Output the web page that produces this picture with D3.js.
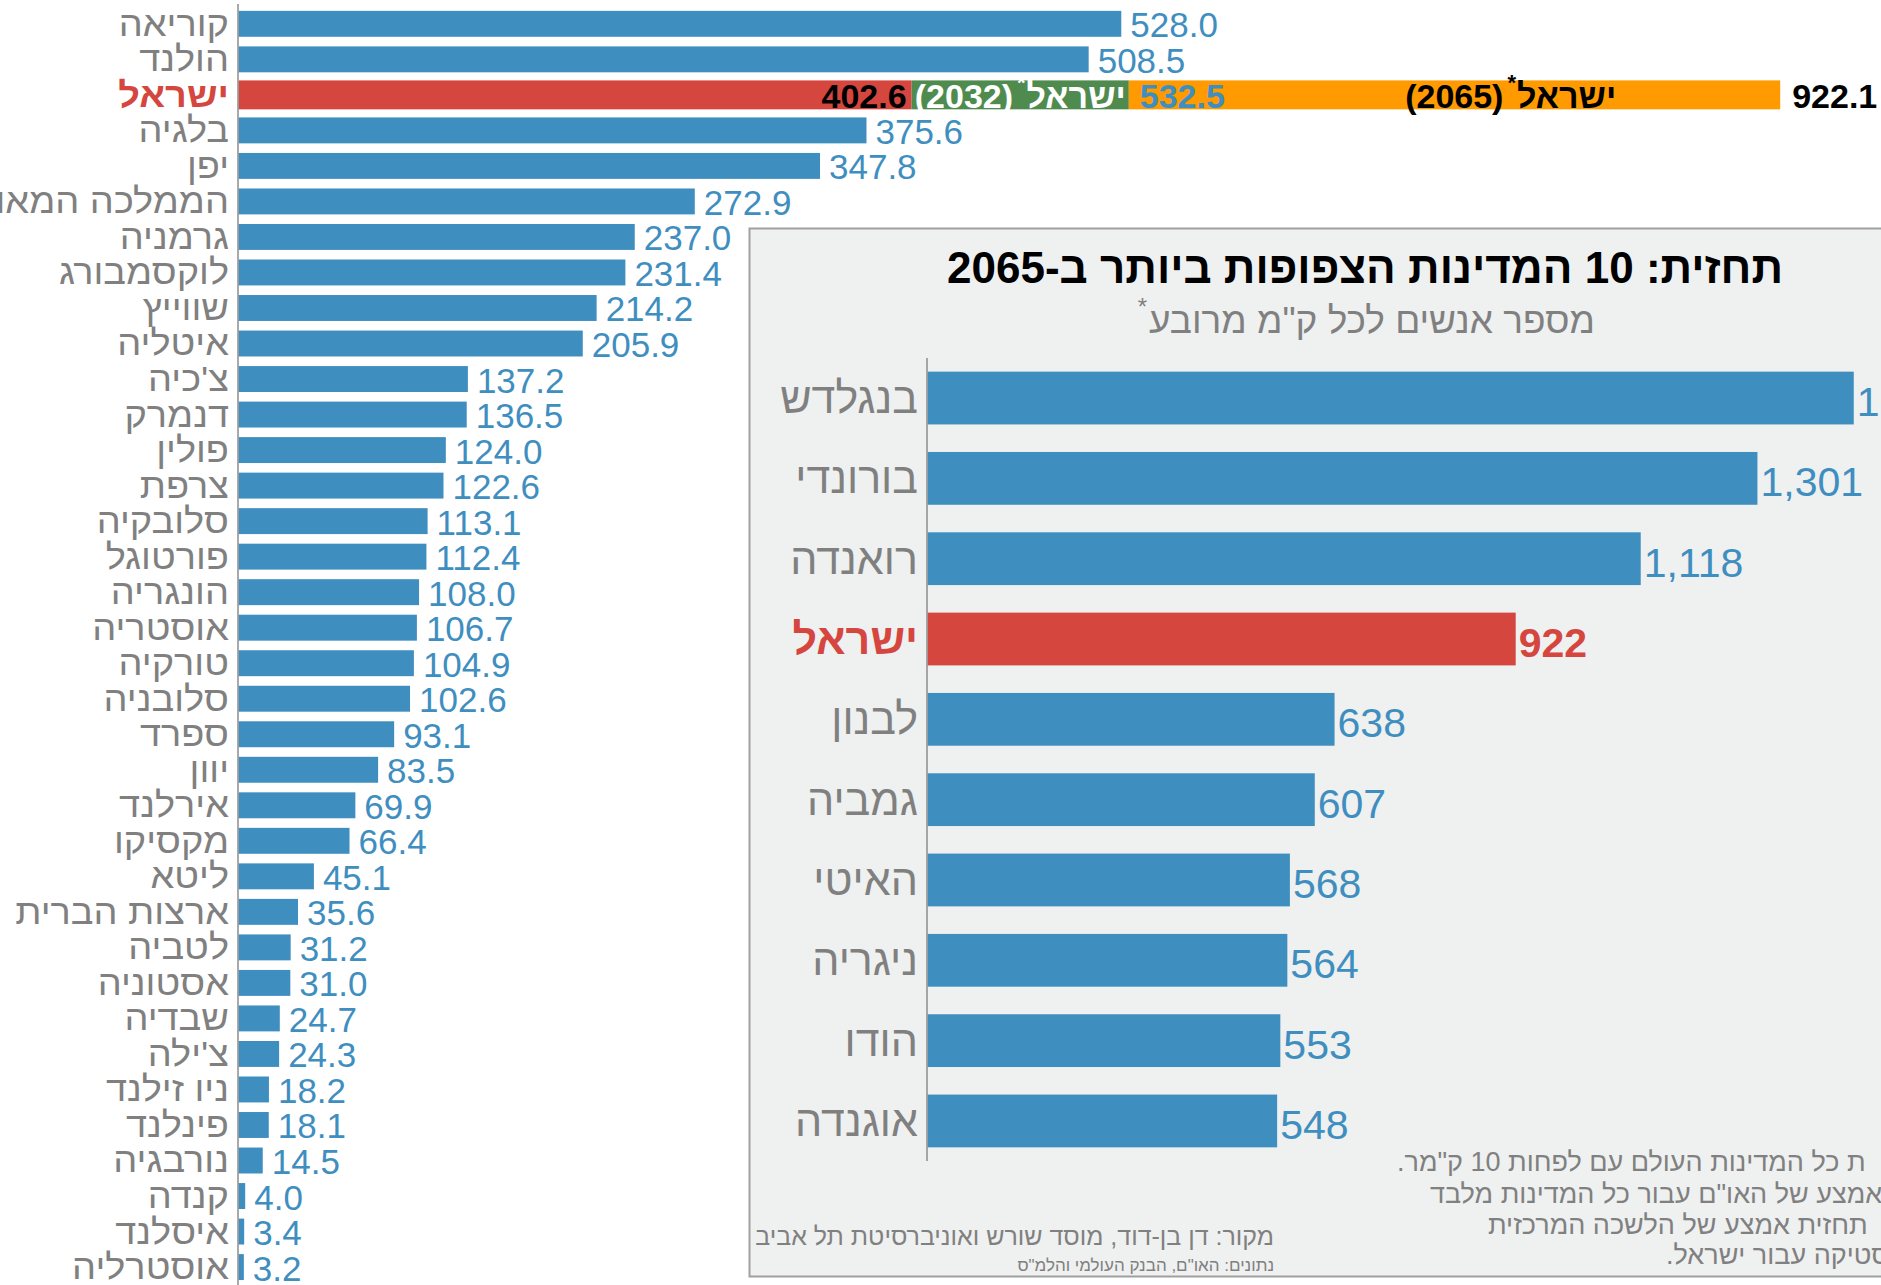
<!DOCTYPE html>
<html lang="he">
<head>
<meta charset="utf-8">
<script src="https://cdn.jsdelivr.net/npm/d3@7/dist/d3.min.js"></script>
<style>
  html, body { margin: 0; padding: 0; background: #ffffff; overflow: hidden; }
  svg { display: block; font-family: "Liberation Sans", Arial, "DejaVu Sans", sans-serif; }
</style>
</head>
<body>
<svg id="chart" width="1881" height="1285"></svg>
<script>
// Population density (people per km²), OECD countries
const countries = ["קוריאה","הולנד","ישראל","בלגיה","יפן","הממלכה המאוחדת","גרמניה","לוקסמבורג","שווייץ","איטליה",
  "צ'כיה","דנמרק","פולין","צרפת","סלובקיה","פורטוגל","הונגריה","אוסטריה","טורקיה","סלובניה",
  "ספרד","יוון","אירלנד","מקסיקו","ליטא","ארצות הברית","לטביה","אסטוניה","שבדיה","צ'ילה",
  "ניו זילנד","פינלנד","נורבגיה","קנדה","איסלנד","אוסטרליה"];
const density = [528.0,508.5,402.6,375.6,347.8,272.9,237.0,231.4,214.2,205.9,
  137.2,136.5,124.0,122.6,113.1,112.4,108.0,106.7,104.9,102.6,
  93.1,83.5,69.9,66.4,45.1,35.6,31.2,31.0,24.7,24.3,
  18.2,18.1,14.5,4.0,3.4,3.2];

// Israel projections
const israelName = "ישראל";
const israelProjYears = ["2032","2065"];
const israelProjValues = [532.5, 922.1];

// Ten most densely populated countries in 2065
const topCountries = ["בנגלדש","בורונדי","רואנדה","ישראל","לבנון","גמביה","האיטי","ניגריה","הודו","אוגנדה"];
const topDensity2065 = [1452,1301,1118,922,638,607,568,564,553,548];

const insetTitle = "תחזית: 10 המדינות הצפופות ביותר ב-2065";
const insetSubtitle = "מספר אנשים לכל ק\"מ מרובע";
const sourceLine = "מקור:  דן בן-דוד, מוסד שורש ואוניברסיטת תל אביב";
const dataLine = "נתונים: האו\"ם, הבנק העולמי והלמ\"ס";
const noteLines = [
  "ת כל המדינות העולם  עם לפחות 10 ק\"מר.",
  "אמצע של האו\"ם עבור כל המדינות מלבד",
  "תחזית אמצע של הלשכה המרכזית",
  "סטיקה עבור ישראל."
];

const BLUE = "#3f8ec0", RED = "#d5463f", GREEN = "#4f8b4f", ORANGE = "#ff9a00";
const GREY = "#808080";

const svg = d3.select("#chart");

// draws text pieces from right to left, starting at xRight (pieces in reading order)
function rtlPieces(g, xRight, y, pieces, base) {
  let x = xRight;
  pieces.forEach(p => {
    const t = g.append("text")
      .attr("x", x)
      .attr("y", y + (p.sup ? -p.sup : 0))
      .attr("text-anchor", "end")
      .attr("dominant-baseline", "central")
      .attr("font-size", p.size || base.size)
      .attr("font-weight", base.weight || "normal")
      .attr("fill", base.fill)
      .text(p.text);
    x -= t.node().getComputedTextLength() + (p.gap || 0);
  });
  return x;
}

/* ---------- main chart ---------- */
const x = d3.scaleLinear().domain([0, israelProjValues[1]]).range([238.5, 1780.2]);
const y = d3.scaleBand().domain(countries).range([-6.9, 1297.8]).paddingInner(0.27).paddingOuter(0.5);

const main = svg.append("g");

main.selectAll("rect.bar")
  .data(countries)
  .join("rect")
  .attr("class", "bar")
  .attr("x", x(0))
  .attr("y", d => d === israelName ? y(d) - 1.5 : y(d))
  .attr("height", d => d === israelName ? y.bandwidth() + 3 : y.bandwidth())
  .attr("width", (d, i) => x(density[i]) - x(0))
  .attr("fill", d => d === israelName ? RED : BLUE);

// Israel projection segments
const iy = y(israelName) - 1.5, ih = y.bandwidth() + 3;
const israelNow = density[countries.indexOf(israelName)];
const segStarts = [israelNow, israelProjValues[0]];
main.selectAll("rect.proj")
  .data(israelProjValues)
  .join("rect")
  .attr("class", "proj")
  .attr("x", (d, i) => x(segStarts[i]))
  .attr("y", iy)
  .attr("height", ih)
  .attr("width", (d, i) => x(d) - x(segStarts[i]))
  .attr("fill", (d, i) => i === 0 ? GREEN : ORANGE);

// axis line
main.append("line")
  .attr("x1", 238).attr("x2", 238)
  .attr("y1", 4).attr("y2", 1285)
  .attr("stroke", "#8c8c8c").attr("stroke-width", 1.5);

// category labels (slightly widened Hebrew face)
main.selectAll("text.cat")
  .data(countries)
  .join("text")
  .attr("class", "cat")
  .attr("transform", d => `translate(229,${y(d) + y.bandwidth() / 2}) scale(1.085,1)`)
  .attr("text-anchor", "end")
  .attr("dominant-baseline", "central")
  .attr("font-size", 35)
  .attr("font-weight", d => d === israelName ? "bold" : "normal")
  .attr("fill", d => d === israelName ? RED : GREY)
  .text(d => d);

// value labels
const f1 = d3.format(".1f");
main.selectAll("text.val")
  .data(countries.filter(c => c !== israelName))
  .join("text")
  .attr("class", "val")
  .attr("x", d => x(density[countries.indexOf(d)]) + 9)
  .attr("y", d => y(d) + y.bandwidth() / 2 + 1)
  .attr("dominant-baseline", "central")
  .attr("font-size", 35)
  .attr("fill", BLUE)
  .text(d => f1(density[countries.indexOf(d)]));

// Israel row labels
const iyc = y(israelName) + y.bandwidth() / 2 + 1;
main.append("text")
  .attr("x", x(israelNow) - 5).attr("y", iyc)
  .attr("text-anchor", "end").attr("dominant-baseline", "central")
  .attr("font-size", 34).attr("font-weight", "bold").attr("fill", "#000")
  .text(f1(israelNow));

rtlPieces(main, x(israelProjValues[0]) - 3, iyc, [
  { text: israelName, gap: 1 },
  { text: "*", size: 22, sup: 13, gap: 4 },
  { text: "(" + israelProjYears[0] + ")" }
], { size: 34, weight: "bold", fill: "#ffffff" });

main.append("text")
  .attr("x", x(israelProjValues[0]) + 11).attr("y", iyc)
  .attr("dominant-baseline", "central")
  .attr("font-size", 34).attr("font-weight", "bold").attr("fill", BLUE)
  .text(f1(israelProjValues[0]));

rtlPieces(main, x(israelProjValues[1]) - 164, iyc, [
  { text: israelName, gap: 1 },
  { text: "*", size: 22, sup: 13, gap: 4 },
  { text: "(" + israelProjYears[1] + ")" }
], { size: 34, weight: "bold", fill: "#000" });

main.append("text")
  .attr("x", x(israelProjValues[1]) + 12).attr("y", iyc)
  .attr("dominant-baseline", "central")
  .attr("font-size", 34).attr("font-weight", "bold").attr("fill", "#000")
  .text(f1(israelProjValues[1]));

/* ---------- inset: 2065 projection ---------- */
const inset = svg.append("g");
inset.append("rect")
  .attr("x", 749.5).attr("y", 228.5)
  .attr("width", 1200).attr("height", 1048)
  .attr("fill", "#eff0f0").attr("stroke", "#a0a0a0").attr("stroke-width", 2);

inset.append("text")
  .attr("x", 1365).attr("y", 267)
  .attr("text-anchor", "middle").attr("dominant-baseline", "central")
  .attr("font-size", 44).attr("font-weight", "bold").attr("fill", "#000")
  .attr("direction", "rtl").attr("unicode-bidi", "embed")
  .text(insetTitle);

{
  const sub = inset.append("text")
    .attr("x", 1372).attr("y", 320)
    .attr("text-anchor", "middle").attr("dominant-baseline", "central")
    .attr("font-size", 37).attr("fill", GREY)
    .text(insetSubtitle);
  const bb = sub.node().getBBox();
  inset.append("text")
    .attr("x", bb.x - 2).attr("y", 306)
    .attr("text-anchor", "end").attr("dominant-baseline", "central")
    .attr("font-size", 24).attr("fill", GREY)
    .text("*");
}

const xi = d3.scaleLinear().domain([0, 922]).range([927.6, 1515.7]);
const yi = d3.scaleBand().domain(topCountries).range([358, 1161]).paddingInner(0.343).paddingOuter(0.17);

inset.selectAll("rect.ibar")
  .data(topCountries)
  .join("rect")
  .attr("class", "ibar")
  .attr("x", xi(0))
  .attr("y", d => yi(d))
  .attr("height", yi.bandwidth())
  .attr("width", (d, i) => xi(topDensity2065[i]) - xi(0))
  .attr("fill", d => d === israelName ? RED : BLUE);

inset.append("line")
  .attr("x1", 927).attr("x2", 927)
  .attr("y1", 358).attr("y2", 1161)
  .attr("stroke", "#8c8c8c").attr("stroke-width", 1.5);

inset.selectAll("text.icat")
  .data(topCountries)
  .join("text")
  .attr("class", "icat")
  .attr("x", 918)
  .attr("y", d => yi(d) + yi.bandwidth() / 2)
  .attr("text-anchor", "end").attr("dominant-baseline", "central")
  .attr("font-size", 43)
  .attr("font-weight", d => d === israelName ? "bold" : "normal")
  .attr("fill", d => d === israelName ? RED : GREY)
  .text(d => d);

const fc = d3.format(",");
inset.selectAll("text.ival")
  .data(topCountries)
  .join("text")
  .attr("class", "ival")
  .attr("x", (d, i) => xi(topDensity2065[i]) + 3)
  .attr("y", d => yi(d) + yi.bandwidth() / 2 + 4)
  .attr("dominant-baseline", "central")
  .attr("font-size", 41)
  .attr("font-weight", d => d === israelName ? "bold" : "normal")
  .attr("fill", d => d === israelName ? RED : BLUE)
  .text((d, i) => fc(topDensity2065[i]));

// source and data notes
inset.append("text")
  .attr("x", 1274).attr("y", 1236)
  .attr("text-anchor", "start").attr("dominant-baseline", "central")
  .attr("direction", "rtl").attr("unicode-bidi", "embed")
  .attr("font-size", 25).attr("fill", GREY)
  .text(sourceLine);
inset.append("text")
  .attr("x", 1274).attr("y", 1265)
  .attr("text-anchor", "start").attr("dominant-baseline", "central")
  .attr("direction", "rtl").attr("unicode-bidi", "embed")
  .attr("font-size", 17).attr("fill", GREY)
  .text(dataLine);

// footnote (continues past the right edge)
const noteLeft = [1397, 1430, 1488, 1666];
const noteY = [1162, 1194, 1225, 1255];
inset.selectAll("text.note")
  .data(noteLines)
  .join("text")
  .attr("class", "note")
  .attr("x", (d, i) => noteLeft[i])
  .attr("y", (d, i) => noteY[i])
  .attr("text-anchor", "end").attr("dominant-baseline", "central")
  .attr("direction", "rtl").attr("unicode-bidi", "embed")
  .attr("font-size", 27).attr("fill", GREY)
  .text(d => d);
</script>
</body>
</html>
